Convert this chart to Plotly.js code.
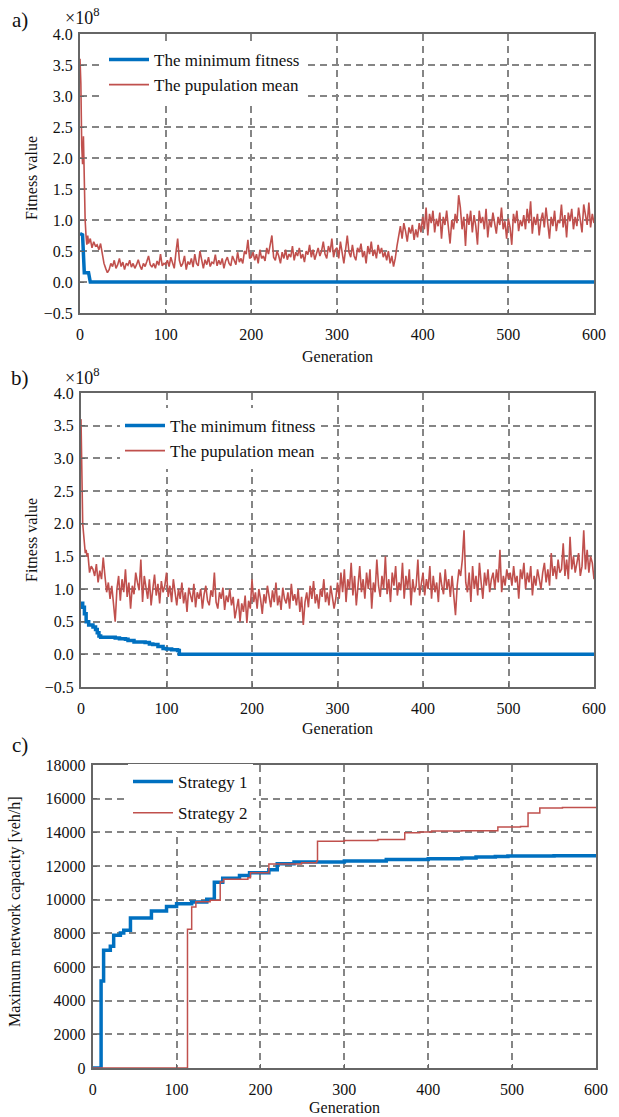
<!DOCTYPE html>
<html>
<head>
<meta charset="utf-8">
<script src="https://cdn.plot.ly/plotly-3.0.1.min.js"></script>
<style>html,body{margin:0;padding:0;background:#fff;}#chart{width:619px;height:1117px;}</style>
</head>
<body>
<div id="chart"></div>
<script>
// ---------- DATA ----------
// Panel a (values in units of 1e8)
const earlyGenA = [0,1,2,3,4,5,6,7,8,9];
const earlyMeanA = [3.6,3.2,2.2,1.9,2.35,1.5,1.0,0.75,0.6,0.75];
// population mean, generations 10..600 step 2
const meanA = [
0.62,0.70,0.55,0.65,0.58,0.60,0.52,0.62,
0.45,0.30,0.22,0.15,0.20,
0.30,0.25,0.35,0.22,0.28,0.38,0.25,0.32,0.20,0.30,0.27,0.35,0.24,0.30,0.22,0.28,0.36,0.26,0.20,0.30,0.25,0.33,0.42,0.28,0.24,0.30,0.22,0.34,0.27,0.45,0.26,0.30,
0.28,0.35,0.25,0.40,0.30,0.22,0.48,0.70,0.35,0.25,
0.30,0.42,0.20,0.33,0.28,0.38,0.24,0.45,0.30,0.26,
0.50,0.32,0.22,0.36,0.28,0.40,0.25,0.32,0.30,0.44,
0.26,0.35,0.28,0.38,0.22,0.34,0.40,0.30,0.26,0.42,
0.35,0.28,0.48,0.32,0.38,0.30,0.50,0.45,0.68,0.38,
0.40,0.48,0.35,0.45,0.30,0.52,0.38,0.42,0.34,0.55,
0.45,0.62,0.75,0.40,0.35,0.50,0.42,0.30,0.48,0.38,
0.52,0.36,0.45,0.40,0.58,0.35,0.48,0.42,0.55,0.38,
0.45,0.32,0.50,0.44,0.60,0.40,0.52,0.36,0.48,0.55,
0.42,0.50,0.65,0.45,0.38,0.58,0.48,0.70,0.40,0.52,
0.55,0.38,0.65,0.45,0.30,0.52,0.75,0.48,0.40,0.60,
0.42,0.35,0.55,0.48,0.62,0.40,0.50,0.30,0.58,0.45,
0.65,0.42,0.52,0.38,0.60,0.46,0.55,0.40,0.48,0.35,
0.50,0.30,0.42,0.25,0.38,
0.58,0.75,0.90,0.70,0.95,0.82,0.65,0.88,0.78,0.92,0.68,0.85,0.72,0.95,0.80,
1.05,0.85,1.20,0.75,1.10,0.95,1.15,0.80,1.02,0.90,
1.12,0.70,1.05,0.92,1.15,0.88,0.62,1.00,0.85,1.10,
0.95,1.40,1.20,0.85,1.05,0.58,1.10,0.92,1.15,0.80,
1.08,0.90,0.60,1.15,0.95,1.05,0.85,1.18,0.72,1.00,
0.88,1.12,0.95,0.78,1.05,0.92,1.20,0.85,0.98,0.70,
1.02,0.88,0.60,1.10,0.95,1.15,0.82,1.00,0.90,1.08,
0.85,1.18,0.95,1.30,0.78,1.05,0.92,1.10,0.75,1.00,
1.12,0.88,1.20,0.95,0.70,1.05,0.90,1.15,0.82,1.00,
0.95,1.25,0.88,1.08,0.72,1.12,0.98,1.18,0.85,1.05,
0.90,1.20,1.00,0.80,1.25,1.05,0.92,1.28,0.88,1.10,
0.95
];
const minGenA = [0,3,5,10,12,600];
const minValA = [0.78,0.76,0.15,0.15,0.0,0.0];

// Panel b (values in units of 1e8)
const earlyGenB = [0,1,2,3,4,5,6,7,8,9];
const earlyMeanB = [3.6,2.6,2.0,1.85,1.65,1.55,1.6,1.5,1.55,1.35];
const meanB = [
1.25,1.35,1.30,1.20,1.38,1.10,1.28,1.15,
1.48,1.20,0.95,1.10,0.85,
1.05,0.75,0.50,1.00,1.20,0.82,1.15,0.95,1.30,0.88,
1.10,0.70,1.05,0.92,1.25,1.10,0.98,1.45,0.80,1.20,
1.05,0.85,1.15,0.75,1.00,1.22,0.90,1.08,0.78,1.12,
0.95,1.05,
1.25,0.88,1.05,0.80,1.15,0.92,0.75,1.00,0.85,1.10,
0.78,0.95,0.65,1.02,0.88,0.80,1.08,0.72,0.95,0.85,
1.00,0.70,0.92,1.05,0.82,0.75,0.98,0.88,1.25,0.80,
0.70,0.95,0.85,1.02,0.68,0.90,0.80,1.00,0.75,0.88,
0.55,0.72,0.85,0.50,0.78,0.65,0.90,0.48,0.82,0.70,
1.15,0.80,0.95,0.70,1.00,0.85,0.62,0.92,0.78,1.05,
0.88,0.72,0.98,0.80,1.10,0.75,0.90,0.68,1.02,0.85,
0.78,0.95,0.70,1.08,0.82,0.92,0.75,1.00,0.65,0.88,
0.45,0.80,0.95,0.72,1.05,0.85,1.12,0.78,0.92,0.70,
1.00,0.88,1.15,0.80,0.95,0.75,1.05,0.90,0.70,0.85,
1.10,0.85,1.25,0.95,1.30,0.80,1.15,1.00,1.40,0.90,
1.20,0.75,1.05,1.35,0.95,1.15,0.85,1.25,1.00,1.30,
0.70,1.10,0.95,1.45,1.05,0.88,1.20,1.00,1.50,0.92,
1.15,0.80,1.25,1.05,1.35,0.90,1.10,0.98,1.40,0.85,
1.20,1.00,1.30,0.75,1.15,0.95,1.05,1.45,0.90,1.12,
1.25,0.90,1.15,1.00,1.35,0.85,1.20,0.95,1.10,0.80,
1.25,1.05,0.92,1.30,1.00,1.15,0.88,1.20,0.95,0.60,
1.05,1.30,1.20,1.45,1.90,1.10,0.95,1.25,0.80,1.35,
1.00,1.20,0.90,1.40,1.10,0.85,1.25,1.05,1.30,0.95,
1.15,1.25,1.00,1.30,1.10,1.60,0.95,1.20,1.05,1.30,
1.15,
1.25,1.05,1.35,1.10,1.20,0.85,1.30,1.15,1.40,1.00,
1.25,1.10,1.35,0.90,1.20,1.05,1.30,1.15,1.00,1.25,
1.40,1.10,1.30,1.05,1.55,1.20,1.35,1.15,1.45,1.25,
1.30,1.70,1.20,1.45,1.15,1.80,1.30,1.50,1.25,1.40,
1.55,1.20,1.35,1.90,1.30,1.60,1.25,1.50,1.40,1.15
];
const minGenB = [0,2,4,6,9,12,14,17,19,21,23,30,40,45,52,55,62,75,80,84,90,96,100,106,113,115,600];
const minValB = [0.78,0.72,0.62,0.50,0.45,0.45,0.42,0.38,0.33,0.28,0.26,0.26,0.25,0.24,0.23,0.21,0.19,0.18,0.16,0.15,0.12,0.09,0.08,0.07,0.06,0.0,0.0];

// Panel c (veh/h)
const genS1 = [0,10,13,21,25,33,37,45,70,88,100,118,136,145,155,175,187,210,220,240,300,350,400,440,457,480,495,550,600];
const capS1 = [0,5170,6990,7230,7880,8020,8180,8910,9330,9600,9760,9860,10020,11030,11270,11430,11600,11780,12140,12240,12300,12380,12435,12480,12535,12570,12600,12615,12630];
const genS2 = [0,113,118,123,140,152,156,185,188,210,249,267,268,300,340,372,390,404,440,483,510,519,533,560,600];
const capS2 = [0,8240,9560,9880,9960,11050,11210,11300,11600,12120,12200,12300,13465,13520,13580,13980,14020,14080,14100,14320,14350,15150,15445,15470,15500];

// Tick labels / text
const panelLabels = ['a)','b)','c)'];
const seriesNamesAB = ['The minimum fitness','The pupulation mean'];
const seriesNamesC = ['Strategy 1','Strategy 2'];

// ---------- BUILD ----------
function gens(early, n){ const g = early.slice(); for(let i=0;i<n;i++) g.push(10+2*i); return g; }
const xA = gens(earlyGenA, meanA.length), yA = earlyMeanA.concat(meanA);
const xB = gens(earlyGenB, meanB.length), yB = earlyMeanB.concat(meanB);

const W = 619, H = 1117;
const px = v => v / W, py = v => 1 - v / H;
const BLUE = '#0070C0', RED = '#C0504D';
const FONT = 'Liberation Serif, Times New Roman, serif';

const traces = [
  {x: minGenA, y: minValA, mode:'lines', line:{color:BLUE,width:3.5}, name:seriesNamesAB[0], xaxis:'x', yaxis:'y', legend:'legend'},
  {x: xA, y: yA, mode:'lines', line:{color:RED,width:1.6}, name:seriesNamesAB[1], xaxis:'x', yaxis:'y', legend:'legend'},
  {x: minGenB, y: minValB, mode:'lines', line:{color:BLUE,width:3.5, shape:'hv'}, name:seriesNamesAB[0], xaxis:'x2', yaxis:'y2', legend:'legend2'},
  {x: xB, y: yB, mode:'lines', line:{color:RED,width:1.6}, name:seriesNamesAB[1], xaxis:'x2', yaxis:'y2', legend:'legend2'},
  {x: genS1, y: capS1, mode:'lines', line:{color:BLUE,width:3.5, shape:'hv'}, name:seriesNamesC[0], xaxis:'x3', yaxis:'y3', legend:'legend3', legendgroup:'g1'},
  {x: genS2, y: capS2, mode:'lines', line:{color:RED,width:1.5, shape:'hv'}, name:seriesNamesC[1], xaxis:'x3', yaxis:'y3', legend:'legend3', legendgroup:'g2'}
];

const axCommon = {
  showline:true, mirror:true, linecolor:'#666', linewidth:2,
  showgrid:true, gridcolor:'#858585', gridwidth:2, griddash:'7px,5px',
  zeroline:false, ticks:'inside', ticklen:4, tickcolor:'#666',
  tickfont:{family:FONT,size:16,color:'#111'}, fixedrange:true
};
function xax(dom, anchor){ return Object.assign({}, axCommon, {domain:dom, anchor:anchor, range:[0,600], dtick:100, tick0:0, ticklabelstandoff:6}); }
function yax(dom, anchor, range, dtick, fmt){ return Object.assign({}, axCommon, {domain:dom, anchor:anchor, range:range, dtick:dtick, tick0:0, tickformat:fmt, ticklabelstandoff:2}); }

const legendBase = {bgcolor:'#fff', borderwidth:0, font:{family:FONT,size:17,color:'#111'}, xanchor:'left', yanchor:'top', itemwidth:40};

const ann = (x,y,text,size,opts) => Object.assign({xref:'paper',yref:'paper',x:px(x),y:py(y),xanchor:'center',yanchor:'middle',text:text,showarrow:false,font:{family:FONT,size:size,color:'#111'}}, opts||{});

const layout = {
  width: W, height: H, margin:{l:0,r:0,t:0,b:0},
  paper_bgcolor:'#fff', plot_bgcolor:'#fff', showlegend:true,
  xaxis: xax([px(80),px(594)], 'y'),
  yaxis: yax([py(313),py(34)], 'x', [-0.5,4], 0.5, '.1f'),
  xaxis2: xax([px(81),px(594)], 'y2'),
  yaxis2: yax([py(687),py(393)], 'x2', [-0.5,4], 0.5, '.1f'),
  xaxis3: xax([px(92.7),px(596)], 'y3'),
  yaxis3: yax([py(1068),py(765)], 'x3', [0,18000], 2000, 'd'),
  legend: Object.assign({}, legendBase, {x:px(104), y:py(42)}),
  legend2: Object.assign({}, legendBase, {x:px(120), y:py(408)}),
  legend3: Object.assign({}, legendBase, {x:px(128), y:py(764), traceorder:'grouped', tracegroupgap:6}),
  annotations: [
    ann(20,20,panelLabels[0],21),
    ann(20,378,panelLabels[1],21),
    ann(20,745,panelLabels[2],21),
    ann(82,16,'×10<sup>8</sup>',18),
    ann(82,376,'×10<sup>8</sup>',18),
    ann(337,357,'Generation',16),
    ann(337,728,'Generation',16),
    ann(344,1107,'Generation',16),
    ann(31,178,'Fitness value',16,{textangle:-90}),
    ann(31,540,'Fitness value',16,{textangle:-90}),
    ann(15,912,'Maximum network capacity [veh/h]',16,{textangle:-90})
  ]
};

Plotly.newPlot('chart', traces, layout, {displayModeBar:false, staticPlot:true});
</script>
</body>
</html>
